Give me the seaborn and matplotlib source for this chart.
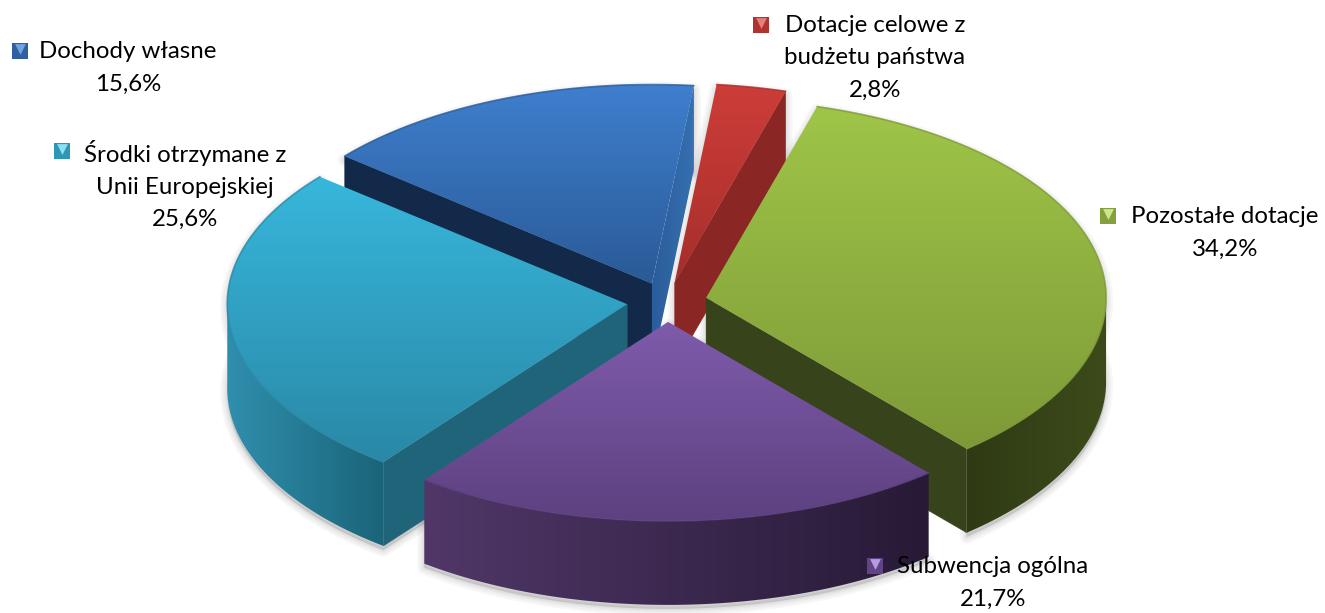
import numpy as np
import matplotlib
matplotlib.use("Agg")
import matplotlib.pyplot as plt
from matplotlib.patches import Polygon
import seaborn as sns

# data
categories = ["Dochody własne", "Dotacje celowe z\nbudżetu państwa", "Pozostałe dotacje",
              "Subwencja ogólna", "Środki otrzymane z\nUnii Europejskiej"]
shares = [15.6, 2.8, 34.2, 21.7, 25.6]

# colours: top surface (light, dark), outer wall (left, right), radial wall, legend key
top_cols = [("#3f7fce", "#2a5a96"), ("#cd3d39", "#a62e2b"), ("#9fc548", "#7e9a38"),
            ("#7f5bab", "#5d4180"), ("#37b7dc", "#2a88a6")]
wall_cols = [("#2a5c9a", "#3670b0"), ("#8a2825", "#9e2f2b"), ("#2f3a14", "#3d4b1a"),
             ("#503768", "#271a36"), ("#2f8fae", "#1b6478")]
radial_cols = ["#13294a", "#8a2724", "#37431a", "#3a2850", "#1f6479"]
key_cols = [("#2f5f9e", "#6ea5e0"), ("#b03330", "#e57f7b"), ("#84a03a", "#cfe58f"),
            ("#614488", "#b79be0"), ("#2d97b5", "#8be0f2")]

# label layout in pixels: text centre, legend key
label_xy = [(128, 68), (875, 58), (1225, 233), (993, 583), (185, 185)]
key_xy = [(20, 51), (761, 25), (1108, 216), (875, 566), (62, 151)]

# pie layout in pixels
CX, CY = 667, 302
RX, RY = 400, 199
EXPLODE = 40
DEPTH = 84
START = -50.2


def project(theta, r=1.0, shift=(0, 0), down=0):
    t = np.radians(theta)
    x = CX + shift[0] + RX * r * np.sin(t)
    y = CY + shift[1] - RY * r * np.cos(t) + down
    return np.column_stack([x, y])


def fill_gradient(ax, pts, c1, c2, vertical, z):
    # gradient image clipped to polygon
    cmap = sns.blend_palette([c1, c2], as_cmap=True)
    grad = np.linspace(0, 1, 256)
    grad = grad.reshape(-1, 1) if vertical else grad.reshape(1, -1)
    patch = Polygon(pts, closed=True, fc="none", ec="none", zorder=z)
    ax.add_patch(patch)
    ext = (pts[:, 0].min(), pts[:, 0].max(), pts[:, 1].max(), pts[:, 1].min())
    im = ax.imshow(grad, extent=ext, cmap=cmap, aspect="auto", origin="upper",
                   interpolation="bilinear", zorder=z)
    im.set_clip_path(patch)


sns.set_theme(style="white")
plt.rcParams["font.family"] = ["Lato", "DejaVu Sans"]

fig, ax = plt.subplots(figsize=(13.25, 6.13), dpi=100)
fig.subplots_adjust(0, 0, 1, 1)

fracs = np.array(shares) / sum(shares) * 360
starts = START + np.concatenate([[0], np.cumsum(fracs)[:-1]])

# painter order, back to front
order = [0, 1, 4, 2, 3]
z = 10
for i in order:
    a0, a1 = starts[i], starts[i] + fracs[i]
    mid = np.radians((a0 + a1) / 2)
    shift = (EXPLODE * np.sin(mid), -EXPLODE * RY / RX * np.cos(mid))
    apex = project(0, 0, shift)
    angs = np.linspace(a0, a1, 120)
    rim = project(angs, 1, shift)
    rim_low = project(angs, 1, shift, DEPTH)
    apex_low = project(0, 0, shift, DEPTH)
    outline = np.vstack([apex, rim])

    # soft shadow under the slice
    sil = np.vstack([apex, rim, rim_low[::-1], apex_low])
    for w in [10, 7, 4, 2]:
        ax.add_patch(Polygon(sil + [0, 4], closed=True, fc=(0, 0, 0, 0.03), ec=(0, 0, 0, 0.03),
                             lw=w, joinstyle="round", zorder=2))

    # outer wall, only the front part shows
    front = np.cos(np.radians(angs)) < 0
    if front.any():
        wall = np.vstack([rim[front], rim_low[front][::-1]])
        fill_gradient(ax, wall, wall_cols[i][0], wall_cols[i][1], False, z)
        z += 1

    # radial walls facing the viewer
    if np.sin(np.radians(a0)) < 0:
        wall = np.vstack([apex, rim[:1], rim_low[:1], apex_low])
        ax.add_patch(Polygon(wall, closed=True, fc=radial_cols[i], ec=radial_cols[i], lw=0.3, zorder=z))
        z += 1
    if np.sin(np.radians(a1)) > 0:
        wall = np.vstack([apex, rim[-1:], rim_low[-1:], apex_low])
        if i == 0:
            fill_gradient(ax, wall, wall_cols[i][0], wall_cols[i][1], False, z)
        else:
            ax.add_patch(Polygon(wall, closed=True, fc=radial_cols[i], ec=radial_cols[i], lw=0.3, zorder=z))
        z += 1

    # top surface with a faint bevel line on the rim
    fill_gradient(ax, outline, top_cols[i][0], top_cols[i][1], True, z)
    z += 1
    ax.plot(rim[:, 0], rim[:, 1], color=top_cols[i][1], lw=1.2, alpha=0.8, zorder=z)
    z += 1

# labels and legend keys
for i, name in enumerate(categories):
    pct = f"{shares[i]:.1f}%".replace(".", ",")
    ax.text(label_xy[i][0], label_xy[i][1], f"{name}\n{pct}", ha="center", va="center",
            fontsize=17.3, linespacing=1.65, color="black", zorder=z + 2)
    kx, ky = key_xy[i]
    ax.scatter([kx], [ky], marker="s", s=135, color=key_cols[i][0], linewidths=0, zorder=z + 1)
    ax.scatter([kx], [ky - 2.5], marker="v", s=60, color=key_cols[i][1], linewidths=0, zorder=z + 1)

ax.set_xlim(0, 1325)
ax.set_ylim(613, 0)
ax.axis("off")

fig.savefig("out.png", dpi=100, facecolor="white")
